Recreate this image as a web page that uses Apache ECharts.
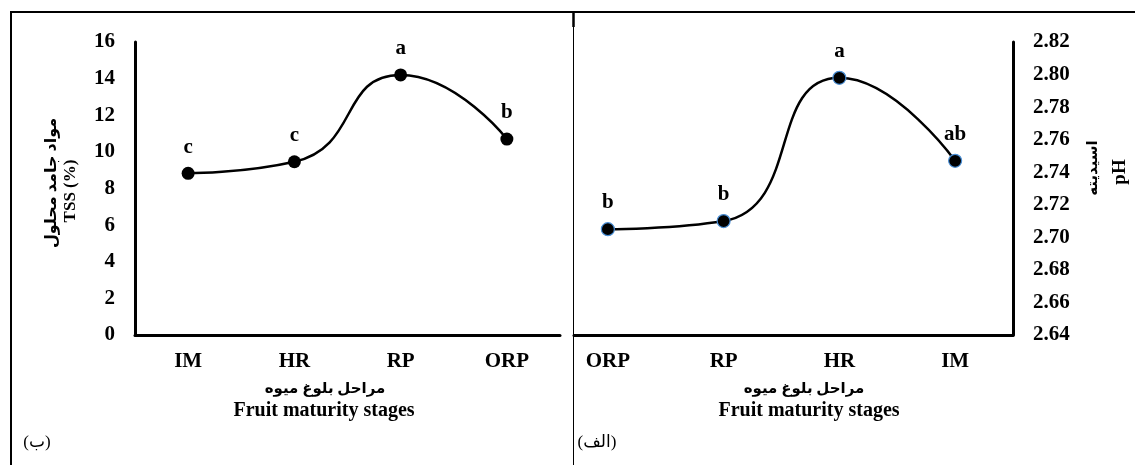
<!DOCTYPE html>
<html><head><meta charset="utf-8">
<script src="https://cdn.jsdelivr.net/npm/echarts@6/dist/echarts.min.js"></script>
<style>html,body{margin:0;padding:0;background:#fff}#c{width:1135px;height:465px}</style>
</head><body><div id="c"></div>
<script>
// ---- data ----
const tssCategories = ['IM', 'HR', 'RP', 'ORP'];
const tssValues = [8.83, 9.46, 14.2, 10.7];
const tssLetters = ['c', 'c', 'a', 'b'];
const tssAxis = { min: 0, max: 16, interval: 2 };

const phCategories = ['ORP', 'RP', 'HR', 'IM'];
const phValues = [2.705, 2.710, 2.798, 2.747];
const phLetters = ['b', 'b', 'a', 'ab'];
const phAxis = { min: 2.64, max: 2.82, interval: 0.02 };

const xTitleFa = 'مراحل بلوغ میوه';
const xTitleEn = 'Fruit maturity stages';
const tssTitleFa = 'مواد جامد محلول';
const tssTitleEn = 'TSS (%)';
const phTitleFa = 'اسیدیته';
const phTitleEn = 'pH';
const panelLeft = '(ب)';
const panelRight = '(الف)';

// ---- styling ----
const SERIF = '"Liberation Serif", "Times New Roman", "DejaVu Sans", serif';
const FA = '"Liberation Serif", "DejaVu Sans", sans-serif';

function catAxis(gridIndex, cats, showLine) {
  return {
    type: 'category', gridIndex: gridIndex, data: cats, boundaryGap: true,
    axisLine: { show: showLine, lineStyle: { color: '#000', width: 3 } },
    axisTick: { show: false },
    axisLabel: { show: true, color: '#000', fontFamily: SERIF, fontWeight: 'bold', fontSize: 21, margin: 16 },
    splitLine: { show: false }
  };
}

function lineSeries(xi, yi, values, letters, border) {
  return {
    type: 'line', xAxisIndex: xi, yAxisIndex: yi, data: values,
    smooth: 0.55, symbol: 'circle', symbolSize: 13,
    lineStyle: { color: '#000', width: 2.5 },
    itemStyle: { color: '#000', borderColor: border, borderWidth: border ? 1.2 : 0 },
    label: {
      show: true, position: 'top', distance: 9,
      formatter: p => letters[p.dataIndex],
      color: '#000', fontFamily: SERIF, fontWeight: 'bold', fontSize: 21
    },
    emphasis: { disabled: true },
    z: 3
  };
}

const chart = echarts.init(document.getElementById('c'), null, { renderer: 'canvas' });

const option = {
  animation: false,
  backgroundColor: '#fff',
  grid: [
    { left: 135, right: 575, top: 42, bottom: 130 },
    { left: 550, right: 122, top: 42, bottom: 130 },
    { left: 574, right: 122, top: 42, bottom: 130 }
  ],
  xAxis: [
    catAxis(0, tssCategories, true),
    catAxis(1, phCategories, false),
    { type: 'category', gridIndex: 2, data: phCategories, axisLine: { show: true, lineStyle: { color: '#000', width: 3 } },
      axisTick: { show: false }, axisLabel: { show: false }, splitLine: { show: false } }
  ],
  yAxis: [
    {
      type: 'value', gridIndex: 0, min: tssAxis.min, max: tssAxis.max, interval: tssAxis.interval,
      axisLine: { show: true, lineStyle: { color: '#000', width: 3 } },
      axisTick: { show: false }, splitLine: { show: false },
      axisLabel: { color: '#000', fontFamily: SERIF, fontWeight: 'bold', fontSize: 21, margin: 20 }
    },
    {
      type: 'value', gridIndex: 1, position: 'right', min: phAxis.min, max: phAxis.max, interval: phAxis.interval,
      axisLine: { show: true, lineStyle: { color: '#000', width: 3 } },
      axisTick: { show: false }, splitLine: { show: false },
      axisLabel: { color: '#000', fontFamily: SERIF, fontWeight: 'bold', fontSize: 21, margin: 20,
        formatter: v => v.toFixed(2) }
    },
    {
      type: 'value', gridIndex: 2, show: false, min: 0, max: 1
    }
  ],
  series: [
    lineSeries(0, 0, tssValues, tssLetters, null),
    lineSeries(1, 1, phValues, phLetters, '#4a8fd6')
  ],
  graphic: [
    // frame
    { type: 'line', shape: { x1: 10, y1: 12, x2: 1135, y2: 12 }, style: { stroke: '#000', lineWidth: 2 } },
    { type: 'line', shape: { x1: 11, y1: 11, x2: 11, y2: 465 }, style: { stroke: '#000', lineWidth: 2 } },
    { type: 'line', shape: { x1: 573.5, y1: 12, x2: 573.5, y2: 465 }, style: { stroke: '#000', lineWidth: 1 } },
    { type: 'line', shape: { x1: 573.5, y1: 12, x2: 573.5, y2: 27 }, style: { stroke: '#000', lineWidth: 2.5 } },
    // y titles
    { type: 'text', x: 52, y: 183, rotation: Math.PI / 2,
      style: { text: tssTitleFa, font: 'bold 16px ' + FA, fill: '#000', textAlign: 'center', textVerticalAlign: 'middle' } },
    { type: 'text', x: 71, y: 191, rotation: Math.PI / 2,
      style: { text: tssTitleEn, font: 'bold 17px ' + SERIF, fill: '#000', textAlign: 'center', textVerticalAlign: 'middle' } },
    { type: 'text', x: 1093, y: 168, rotation: Math.PI / 2,
      style: { text: phTitleFa, font: 'bold 15px ' + FA, fill: '#000', textAlign: 'center', textVerticalAlign: 'middle' } },
    { type: 'text', x: 1120, y: 172, rotation: Math.PI / 2,
      style: { text: phTitleEn, font: 'bold 19px ' + SERIF, fill: '#000', textAlign: 'center', textVerticalAlign: 'middle' } },
    // x titles
    { type: 'text', x: 325, y: 389,
      style: { text: xTitleFa, font: 'bold 15px ' + FA, fill: '#000', textAlign: 'center', textVerticalAlign: 'middle' } },
    { type: 'text', x: 324, y: 411,
      style: { text: xTitleEn, font: 'bold 20px ' + SERIF, fill: '#000', textAlign: 'center', textVerticalAlign: 'middle' } },
    { type: 'text', x: 804, y: 389,
      style: { text: xTitleFa, font: 'bold 15px ' + FA, fill: '#000', textAlign: 'center', textVerticalAlign: 'middle' } },
    { type: 'text', x: 809, y: 411,
      style: { text: xTitleEn, font: 'bold 20px ' + SERIF, fill: '#000', textAlign: 'center', textVerticalAlign: 'middle' } },
    // panel labels
    { type: 'text', x: 37, y: 443,
      style: { text: panelLeft, font: '17px ' + FA, fill: '#000', textAlign: 'center', textVerticalAlign: 'middle' } },
    { type: 'text', x: 597, y: 443,
      style: { text: panelRight, font: '17px ' + FA, fill: '#000', textAlign: 'center', textVerticalAlign: 'middle' } }
  ]
};
chart.setOption(option);
</script>
</body></html>
